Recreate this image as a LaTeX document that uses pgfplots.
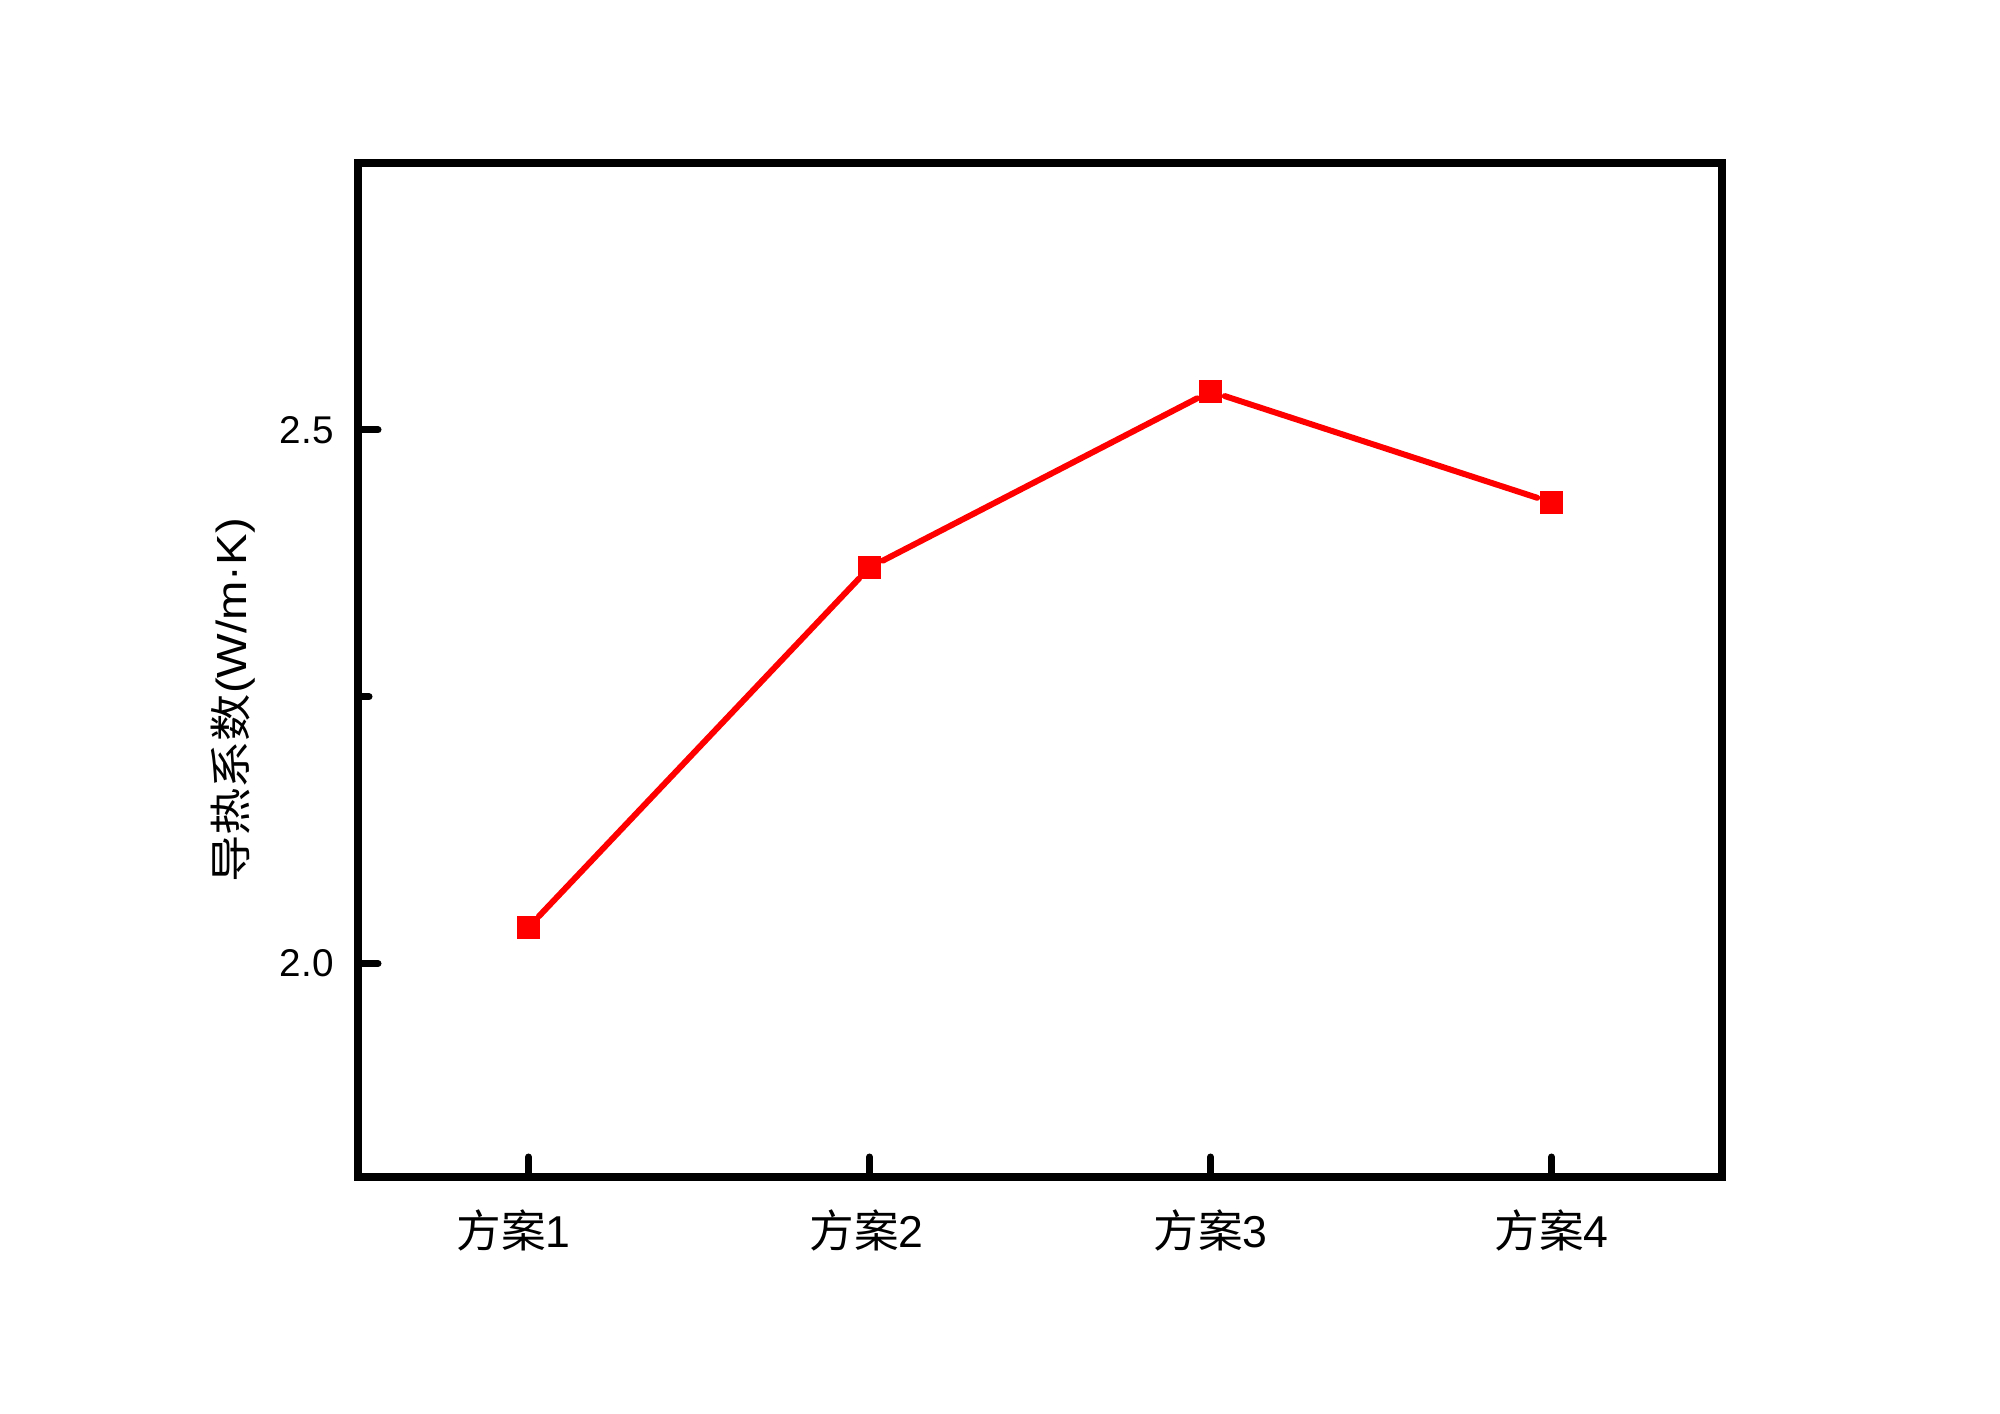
\documentclass[border=0pt]{standalone}
\usepackage{pgfplots}
\pgfplotsset{compat=1.18}
\usepackage{graphicx}
\usepackage{fontspec}
\setmainfont{Liberation Sans}
\newfontfamily\cjk{Noto Sans CJK SC}
\begin{document}
\begin{tikzpicture}
\begin{axis}[
  name=main,
  scale only axis,
  width=13.64cm, height=10.14cm,
  xmin=0.5, xmax=4.5, ymin=1.8, ymax=2.75,
  axis line style={line width=2.1pt},
  xtick={1,2,3,4},
  xticklabels={{\cjk 方案}1\rule{0.3cm}{0pt},{\cjk 方案}2\rule{0.06cm}{0pt},{\cjk 方案}3,{\cjk 方案}4},
  ytick={2.0,2.5},
  minor ytick={2.25},
  tick pos=left,
  tick align=inside,
  major tick length=0.2cm,
  minor tick length=0.11cm,
  every tick/.style={line width=2.0pt, black, line cap=round},
  yticklabel style={/pgf/number format/fixed, /pgf/number format/fixed zerofill, /pgf/number format/precision=1, xshift=-0.12cm, font=\fontsize{11}{13}\selectfont},
  /pgf/number format/assume math mode=true,
  xticklabel style={yshift=-0.2cm, font=\fontsize{12.7}{14}\selectfont},
  ylabel={\scalebox{1.12}[1]{{\cjk 导热系数}(W/m·K)}},
  ylabel style={font=\fontsize{12}{14}\selectfont, at={(ticklabel cs:0.47)}},
  clip=false,
]
\pgfplotsset{seg/.style={color=red, line width=1.7pt, line cap=round, shorten <=0.15cm, shorten >=0.15cm, forget plot}}
\addplot[seg] coordinates {(1,2.034) (2,2.371)};
\addplot[seg] coordinates {(2,2.371) (3,2.536)};
\addplot[seg] coordinates {(3,2.536) (4,2.432)};
\addplot[only marks, mark=square*, mark size=3.1pt, mark options={solid, fill=red, draw=red, line width=0pt}]
  coordinates {(1,2.034) (2,2.371) (3,2.536) (4,2.432)};
\end{axis}
\useasboundingbox ([xshift=-3.58cm,yshift=-2.36cm]main.south west) rectangle ([xshift=2.78cm,yshift=1.63cm]main.north east);
\end{tikzpicture}
\end{document}
